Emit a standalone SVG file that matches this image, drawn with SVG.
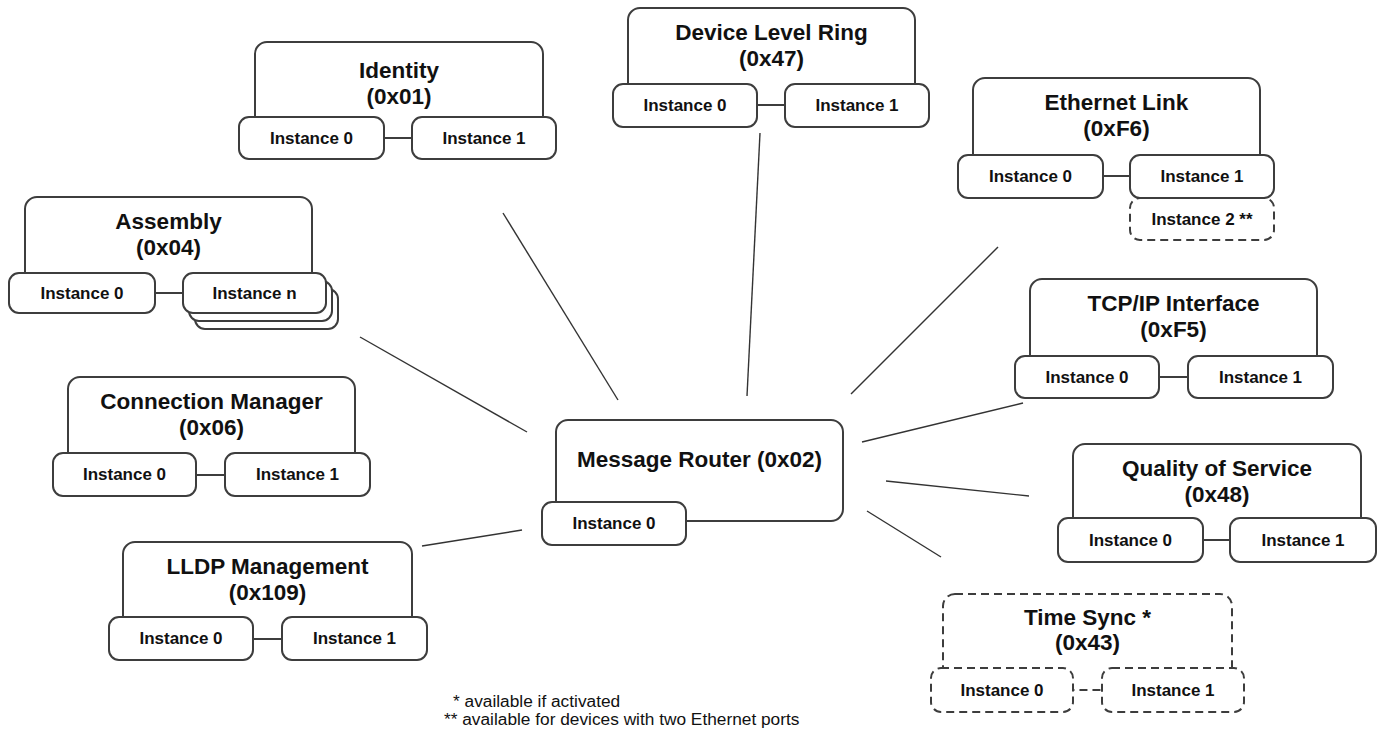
<svg xmlns="http://www.w3.org/2000/svg" width="1383" height="731" viewBox="0 0 1383 731">
<style>
.o{fill:#fff;stroke:#3d3d3d;stroke-width:2}
.i{fill:#fff;stroke:#3d3d3d;stroke-width:2}
.d{stroke-dasharray:8 5}
.t{font-family:"Liberation Sans",Arial,sans-serif;font-weight:bold;font-size:22.5px;fill:#111;text-anchor:middle}
.l{font-family:"Liberation Sans",Arial,sans-serif;font-weight:bold;font-size:17px;fill:#111;text-anchor:middle}
.f{font-family:"Liberation Sans",Arial,sans-serif;font-size:17.3px;fill:#111}
.c{stroke:#333;stroke-width:1.4;fill:none}
</style>
<rect width="1383" height="731" fill="#fff"/>
<g id="connectors">
<line class="c" x1="503" y1="213" x2="618" y2="400"/>
<line class="c" x1="760" y1="133" x2="747" y2="396"/>
<line class="c" x1="998" y1="247" x2="851" y2="394"/>
<line class="c" x1="1023" y1="403" x2="862" y2="442"/>
<line class="c" x1="1029" y1="496" x2="886" y2="481"/>
<line class="c" x1="867" y1="511" x2="941" y2="557"/>
<line class="c" x1="360" y1="337" x2="527" y2="432"/>
<line class="c" x1="422" y1="546" x2="522" y2="530"/>
</g>
<g id="identity">
<rect class="o" x="255" y="42" width="288" height="96" rx="12"/>
<text class="t" x="399" y="78">Identity</text>
<text class="t" x="399" y="104">(0x01)</text>
<rect class="i" x="239" y="117" width="145" height="42" rx="10"/>
<text class="l" x="311.5" y="144">Instance 0</text>
<rect class="i" x="412" y="117" width="144" height="42" rx="10"/>
<text class="l" x="484" y="144">Instance 1</text>
</g>
<g id="device-level-ring">
<rect class="o" x="628" y="8" width="287" height="97" rx="12"/>
<text class="t" x="771.5" y="40">Device Level Ring</text>
<text class="t" x="771.5" y="66">(0x47)</text>
<rect class="i" x="613" y="84" width="144" height="43" rx="10"/>
<text class="l" x="685" y="111">Instance 0</text>
<rect class="i" x="785" y="84" width="144" height="43" rx="10"/>
<text class="l" x="857" y="111">Instance 1</text>
</g>
<g id="ethernet-link">
<rect class="o" x="973" y="78" width="287" height="98" rx="12"/>
<text class="t" x="1116.5" y="110">Ethernet Link</text>
<text class="t" x="1116.5" y="136">(0xF6)</text>
<rect class="i d" x="1130" y="198" width="144" height="42" rx="10"/>
<text class="l" x="1202" y="225">Instance 2 **</text>
<rect class="i" x="958" y="155" width="145" height="43" rx="10"/>
<text class="l" x="1030.5" y="182">Instance 0</text>
<rect class="i" x="1130" y="155" width="144" height="43" rx="10"/>
<text class="l" x="1202" y="182">Instance 1</text>
</g>
<g id="tcpip-interface">
<rect class="o" x="1030" y="279" width="287" height="98" rx="12"/>
<text class="t" x="1173.5" y="311">TCP/IP Interface</text>
<text class="t" x="1173.5" y="337">(0xF5)</text>
<rect class="i" x="1015" y="356" width="144" height="42" rx="10"/>
<text class="l" x="1087" y="383">Instance 0</text>
<rect class="i" x="1188" y="356" width="145" height="42" rx="10"/>
<text class="l" x="1260.5" y="383">Instance 1</text>
</g>
<g id="quality-of-service">
<rect class="o" x="1073" y="444" width="288" height="96" rx="12"/>
<text class="t" x="1217" y="476">Quality of Service</text>
<text class="t" x="1217" y="502">(0x48)</text>
<rect class="i" x="1058" y="518" width="145" height="44" rx="10"/>
<text class="l" x="1130.5" y="546">Instance 0</text>
<rect class="i" x="1230" y="518" width="146" height="44" rx="10"/>
<text class="l" x="1303" y="546">Instance 1</text>
</g>
<g id="time-sync">
<rect class="o d" x="943" y="594" width="289" height="96" rx="12"/>
<text class="t" x="1087.5" y="625">Time Sync *</text>
<text class="t" x="1087.5" y="650">(0x43)</text>
<rect class="i d" x="931" y="668" width="142" height="44" rx="10"/>
<text class="l" x="1002" y="696">Instance 0</text>
<rect class="i d" x="1102" y="668" width="142" height="44" rx="10"/>
<text class="l" x="1173" y="696">Instance 1</text>
</g>
<g id="assembly">
<rect class="o" x="25" y="197" width="287" height="96" rx="12"/>
<text class="t" x="168.5" y="229">Assembly</text>
<text class="t" x="168.5" y="255">(0x04)</text>
<rect class="i" x="9" y="273" width="146" height="40" rx="10"/>
<text class="l" x="82" y="299">Instance 0</text>
<rect class="i" x="195" y="289" width="143" height="40" rx="10"/>
<rect class="i" x="189" y="281" width="143" height="40" rx="10"/>
<rect class="i" x="183" y="273" width="143" height="40" rx="10"/>
<text class="l" x="254.5" y="299">Instance n</text>
</g>
<g id="connection-manager">
<rect class="o" x="68" y="377" width="287" height="98" rx="12"/>
<text class="t" x="211.5" y="409">Connection Manager</text>
<text class="t" x="211.5" y="435">(0x06)</text>
<rect class="i" x="53" y="453" width="143" height="43" rx="10"/>
<text class="l" x="124.5" y="480">Instance 0</text>
<rect class="i" x="225" y="453" width="145" height="43" rx="10"/>
<text class="l" x="297.5" y="480">Instance 1</text>
</g>
<g id="lldp-management">
<rect class="o" x="123" y="542" width="289" height="97" rx="12"/>
<text class="t" x="267.5" y="574">LLDP Management</text>
<text class="t" x="267.5" y="600">(0x109)</text>
<rect class="i" x="109" y="617" width="144" height="43" rx="10"/>
<text class="l" x="181" y="644">Instance 0</text>
<rect class="i" x="282" y="617" width="145" height="43" rx="10"/>
<text class="l" x="354.5" y="644">Instance 1</text>
</g>
<g id="message-router">
<rect class="o" x="556" y="420" width="287" height="101" rx="12"/>
<text class="t" x="699.5" y="467">Message Router (0x02)</text>
<rect class="i" x="542" y="502" width="144" height="43" rx="10"/>
<text class="l" x="614" y="529">Instance 0</text>
</g>
<g id="footnotes">
<text class="f" x="453" y="707">* available if activated</text>
<text class="f" x="444" y="725">** available for devices with two Ethernet ports</text>
</g>
</svg>
